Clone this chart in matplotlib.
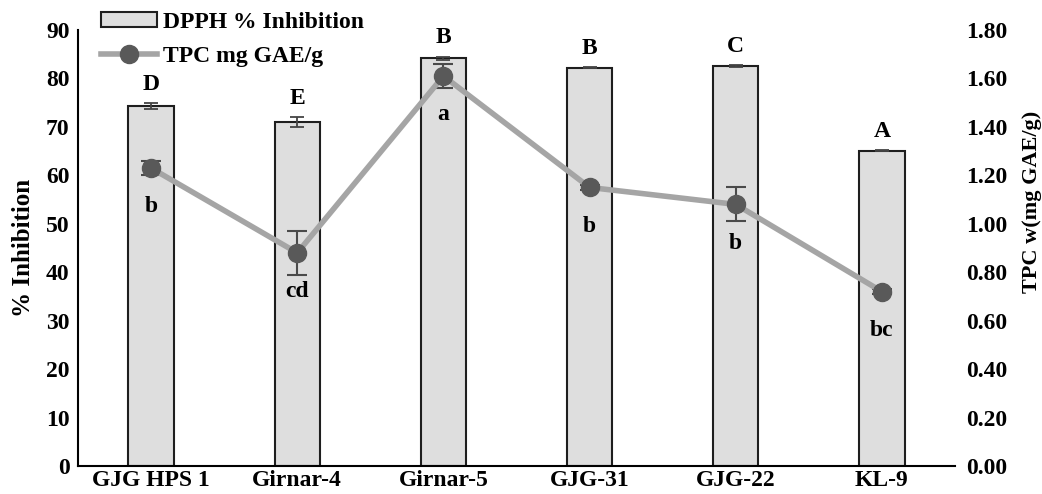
import matplotlib
matplotlib.use("Agg")
import matplotlib.pyplot as plt
from matplotlib.lines import Line2D
from matplotlib.patches import Patch
import numpy as np

categories = ["GJG HPS 1", "Girnar-4", "Girnar-5", "GJG-31", "GJG-22", "KL-9"]
dpph = [74.3, 71.0, 84.2, 82.2, 82.5, 65.1]
dpph_err = [0.6, 1.0, 0.3, 0.1, 0.2, 0.1]
dpph_letters = ["D", "E", "B", "B", "C", "A"]
tpc = [1.23, 0.88, 1.61, 1.15, 1.08, 0.72]
tpc_err = [0.03, 0.09, 0.05, 0.01, 0.07, 0.01]
tpc_letters = ["b", "cd", "a", "b", "b", "bc"]
left_ticks = list(range(0, 91, 10))
right_ticks = [0.0, 0.2, 0.4, 0.6, 0.8, 1.0, 1.2, 1.4, 1.6, 1.8]

plt.rcParams['font.family'] = ['Liberation Serif', 'DejaVu Serif']
plt.rcParams['font.weight'] = 'bold'

FS = 17
fig = plt.figure(figsize=(10.42, 4.94), dpi=100)
ax = fig.add_axes([78/1042, 28/494, 877/1042, 436/494])
x = np.arange(len(categories))

bar_color = "#dedede"
bar_edge = "#1e1e1e"
line_color = "#a5a5a5"
marker_color = "#595959"

ax.bar(x, dpph, width=0.31, color=bar_color, edgecolor=bar_edge,
       linewidth=1.5, yerr=dpph_err, capsize=5,
       error_kw=dict(ecolor="#444444", elinewidth=1.3, capthick=1.3),
       zorder=2)
for xi, v, e, t in zip(x, dpph, dpph_err, dpph_letters):
    ax.annotate(t, (xi, v + e), xytext=(0, 6), textcoords="offset points",
                ha="center", va="bottom", fontsize=FS, fontweight="bold")

ax.set_xlim(-0.5, 5.5)
ax.set_ylim(0, 90)
ax.set_yticks(left_ticks)
ax.set_xticks(x)
ax.set_xticklabels(categories)
ax.tick_params(axis="both", length=0, labelsize=FS, pad=6)
ax.tick_params(axis="x", pad=3)
for lab in ax.get_xticklabels() + ax.get_yticklabels():
    lab.set_fontweight("bold")
ax.spines["top"].set_visible(False)
ax.spines["right"].set_visible(False)
ax.spines["left"].set_linewidth(1.5)
ax.spines["bottom"].set_linewidth(1.5)
ax.set_ylabel("% Inhibition", fontsize=FS + 1, fontweight="bold", labelpad=8)

ax2 = ax.twinx()
ax2.errorbar(x, tpc, yerr=tpc_err, color=line_color, linewidth=4,
             marker="o", markersize=13, markerfacecolor=marker_color,
             markeredgecolor=marker_color, ecolor="#4a4a4a",
             elinewidth=1.5, capsize=7, capthick=1.5, zorder=3)
for xi, v, t in zip(x, tpc, tpc_letters):
    ax2.annotate(t, (xi, v), xytext=(0, -28), textcoords="offset points",
                 ha="center", va="center", fontsize=FS, fontweight="bold")
ax2.set_ylim(0, 1.8)
ax2.set_yticks(right_ticks)
ax2.set_yticklabels([f"{t:.2f}" for t in right_ticks])
ax2.tick_params(axis="y", length=0, labelsize=FS, pad=8)
for lab in ax2.get_yticklabels():
    lab.set_fontweight("bold")
for s in ["top", "right", "left", "bottom"]:
    ax2.spines[s].set_visible(False)
ax2.set_ylabel("TPC w(mg GAE/g)", fontsize=16, fontweight="bold")
ax2.yaxis.label.set_va("center")
ax2.yaxis.label.set_ha("center")
ax2.yaxis.set_label_coords(1.088, 0.605)

handles = [Patch(facecolor=bar_color, edgecolor=bar_edge, linewidth=1.5),
           Line2D([], [], color=line_color, linewidth=4, marker="o",
                  markersize=13, markerfacecolor=marker_color,
                  markeredgecolor=marker_color)]
fig.legend(handles, ["DPPH % Inhibition", "TPC mg GAE/g"],
           loc="upper left", bbox_to_anchor=(89/1042, 1.0), frameon=False,
           prop=dict(size=FS, weight="bold"), handlelength=2.4,
           handleheight=0.6, handletextpad=0.25, labelspacing=0.55,
           borderaxespad=0.1)

fig.savefig("out.png", dpi=100)
